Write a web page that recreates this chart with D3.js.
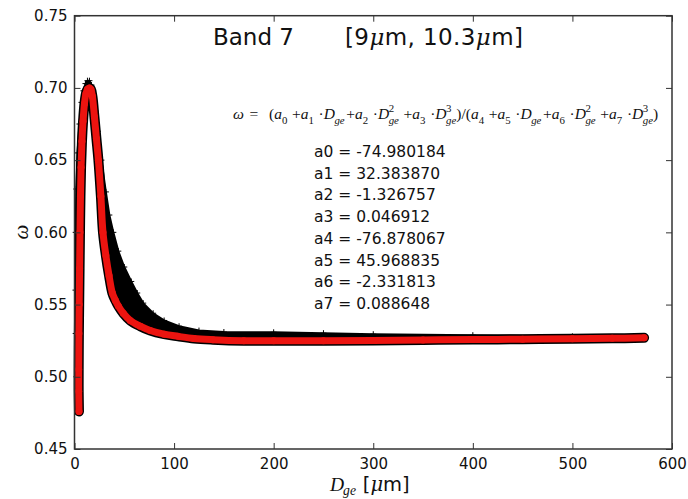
<!DOCTYPE html>
<html><head><meta charset="utf-8">
<script src="https://cdn.jsdelivr.net/npm/d3@7"></script>
<style>body{margin:0;background:#fff}</style>
</head><body><svg id="c" width="688" height="499"></svg>
<script>
// ---------- data ----------
const xTicks = [0, 100, 200, 300, 400, 500, 600];
const yTicks = [0.45, 0.50, 0.55, 0.60, 0.65, 0.70, 0.75];
// red fitted curve, ordered along the curve
const fitD = [4.5, 4.2, 4.2, 4.4, 4.7, 5.1, 5.5, 6.0, 6.6, 7.5, 8.6, 10, 11.5, 13, 15, 16.5, 18, 20, 22, 24, 26.5, 28.6, 31.5, 34.7, 38, 41, 44, 49, 56, 66, 76, 90, 104, 120, 139, 170, 200, 250, 300, 350, 400, 450, 500, 540, 572];
const fitW = [0.476, 0.49, 0.505, 0.53, 0.55, 0.575, 0.60, 0.625, 0.645, 0.663, 0.677, 0.689, 0.696, 0.699, 0.700, 0.699, 0.694, 0.680, 0.665, 0.650, 0.625, 0.600, 0.584, 0.570, 0.558, 0.553, 0.549, 0.544, 0.539, 0.535, 0.532, 0.5295, 0.528, 0.5265, 0.5257, 0.525, 0.525, 0.525, 0.5252, 0.5255, 0.5258, 0.526, 0.5263, 0.5266, 0.527];
// outer envelope of the black data cloud, ordered along the curve
const dataOuterD = [3.5, 2.0, 1.2, 1.0, 1.2, 1.8, 3, 5, 7, 9, 11, 13, 15, 17, 19, 21, 23.5, 27, 31.5, 35, 39, 44, 50, 57, 63, 69, 79, 90, 105, 125, 150, 200, 250, 300, 400, 500, 565];
const dataOuterW = [0.48, 0.50, 0.53, 0.56, 0.60, 0.63, 0.655, 0.675, 0.69, 0.698, 0.703, 0.705, 0.705, 0.702, 0.694, 0.684, 0.670, 0.650, 0.628, 0.612, 0.600, 0.587, 0.576, 0.566, 0.558, 0.551, 0.544, 0.539, 0.535, 0.532, 0.531, 0.5308, 0.5302, 0.5295, 0.5288, 0.528, 0.5275];
const coefNames = ["a0", "a1", "a2", "a3", "a4", "a5", "a6", "a7"];
const coefValues = ["-74.980184", "32.383870", "-1.326757", "0.046912", "-76.878067", "45.968835", "-2.331813", "0.088648"];
const bandTitle = "Band 7";

// ---------- setup ----------
const svg = d3.select("#c");
const L = 74.5, R = 672, T = 15.7, B = 449;
const x = d3.scaleLinear().domain([0, 600]).range([L, R]);
const y = d3.scaleLinear().domain([0.45, 0.75]).range([B, T]);
const SANS = "'DejaVu Sans', sans-serif";
const SERIF = "'Liberation Serif','DejaVu Serif',serif";
const RED = "#ec1410";

const fitPts = fitD.map((d, i) => [d, fitW[i]]);
const outerPts = dataOuterD.map((d, i) => [d, dataOuterW[i]]);

const plot = svg.append("g");
const line = d3.line().x(d => x(d[0])).y(d => y(d[1])).curve(d3.curveCatmullRom);

// black data cloud: polygon between fit curve and outer envelope
const poly = fitPts.concat(outerPts.slice().reverse());
plot.append("path").attr("d", d3.line().x(d => x(d[0])).y(d => y(d[1])).curve(d3.curveLinearClosed)(poly))
  .attr("fill", "#000").attr("stroke", "#000").attr("stroke-width", 2).attr("stroke-linejoin", "round");
plot.append("path").attr("d", line(fitPts)).attr("fill", "none").attr("stroke", "#000")
  .attr("stroke-width", 10).attr("stroke-linejoin", "round").attr("stroke-linecap", "round");
// "+" markers along envelope
plot.selectAll("path.plus").data(outerPts).join("path").attr("class", "plus")
  .attr("d", d => `M${x(d[0]) - 3},${y(d[1])}h6M${x(d[0])},${y(d[1]) - 3}v6`)
  .attr("stroke", "#000").attr("stroke-width", 1);
// red fit
plot.append("path").attr("d", line(fitPts)).attr("fill", "none").attr("stroke", RED)
  .attr("stroke-width", 7).attr("stroke-linejoin", "round").attr("stroke-linecap", "round");
plot.selectAll("circle").data(fitPts).join("circle")
  .attr("cx", d => x(d[0])).attr("cy", d => y(d[1])).attr("r", 3.5).attr("fill", RED);

// ---------- axes ----------
const fmtY = d3.format(".2f");
const gx = svg.append("g").attr("transform", `translate(0,${B})`)
  .call(d3.axisBottom(x).tickValues(xTicks).tickSizeInner(-6).tickSizeOuter(0).tickPadding(9).tickFormat(d3.format("d")));
const gxt = svg.append("g").attr("transform", `translate(0,${T})`)
  .call(d3.axisTop(x).tickValues(xTicks).tickSizeInner(-6).tickSizeOuter(0).tickFormat(""));
const gy = svg.append("g").attr("transform", `translate(${L},0)`)
  .call(d3.axisLeft(y).tickValues(yTicks).tickSizeInner(-6).tickSizeOuter(0).tickPadding(7).tickFormat(fmtY));
const gyr = svg.append("g").attr("transform", `translate(${R},0)`)
  .call(d3.axisRight(y).tickValues(yTicks).tickSizeInner(-6).tickSizeOuter(0).tickFormat(""));
[gx, gxt, gy, gyr].forEach(g => {
  g.select(".domain").remove();
  g.selectAll(".tick line").attr("stroke", "#333").attr("stroke-width", 1);
  g.selectAll(".tick text").attr("font-family", SANS).attr("font-size", 15).attr("fill", "#111");
});
svg.append("rect").attr("x", L).attr("y", T).attr("width", R - L).attr("height", B - T)
  .attr("fill", "none").attr("stroke", "#333").attr("stroke-width", 1.5);

// ---------- labels ----------
svg.append("text").attr("x", 213).attr("y", 45).attr("font-family", SANS).attr("font-size", 23).attr("fill", "#111").text(bandTitle);
const t2 = svg.append("text").attr("x", 345).attr("y", 45).attr("font-family", SANS).attr("font-size", 23)
  .attr("letter-spacing", 0.4).attr("fill", "#111");
t2.append("tspan").text("[9");
t2.append("tspan").attr("font-family", "'DejaVu Serif',serif").attr("font-style", "italic").text("μ");
t2.append("tspan").text("m, 10.3");
t2.append("tspan").attr("font-family", "'DejaVu Serif',serif").attr("font-style", "italic").text("μ");
t2.append("tspan").text("m]");

function mathRow(g, x0, y0, size, tokens) {
  let cx = x0;
  tokens.forEach(t => {
    if (t.sp !== undefined) { cx += t.sp * size; return; }
    const m = g.append("text").attr("x", cx).attr("y", y0).attr("font-family", t.fam || SERIF)
      .attr("font-size", size).attr("font-style", t.it ? "italic" : "normal").attr("fill", "#111").text(t.t);
    let w = m.node().getComputedTextLength();
    if (t.sub || t.sup) {
      const sx = cx + w + (t.k || 0);
      let ws = 0, wp = 0;
      if (t.sub) {
        const s = g.append("text").attr("x", sx).attr("y", y0 + size * (t.subDy || 0.3)).attr("font-family", SERIF)
          .attr("font-size", size * 0.7).attr("font-style", t.subIt ? "italic" : "normal").attr("fill", "#111").text(t.sub);
        ws = s.node().getComputedTextLength();
      }
      if (t.sup) {
        const s = g.append("text").attr("x", sx).attr("y", y0 - size * 0.42).attr("font-family", SERIF)
          .attr("font-size", size * 0.7).attr("fill", "#111").text(t.sup);
        wp = s.node().getComputedTextLength();
      }
      w += Math.max(ws, wp) + (t.k || 0);
    }
    cx += w;
  });
  return cx;
}

// x label
const xl = svg.append("g");
mathRow(xl, 330, 491, 19.5, [
  { t: "D", it: true, sub: "ge", subIt: true, k: -1, subDy: 0.2 },
  { sp: 0.35 },
  { t: "[", fam: SANS }, { t: "μ", it: true, fam: "'DejaVu Serif',serif" }, { t: "m]", fam: SANS }
]);

// y label
svg.append("text").attr("transform", "translate(28,232) rotate(-90)").attr("text-anchor", "middle")
  .attr("font-family", SERIF).attr("font-style", "italic").attr("font-size", 21).attr("fill", "#111").text("ω");

// formula
const fg = svg.append("g");
const a = (n) => ({ t: "a", it: true, sub: String(n) });
const Dk = (p) => ({ t: "D", it: true, sub: "ge", subIt: true, sup: p, k: -0.5 });
const op = (s) => ({ t: s });
const sp = (v) => ({ sp: v });
const dot = { t: "·" };
const half = (i) => [a(i), sp(0.3), op("+"), a(i + 1), sp(0.3), dot, Dk(""), sp(0.1), op("+"), a(i + 2), sp(0.3), dot, Dk("2"), sp(0.3), op("+"), a(i + 3), sp(0.3), dot, Dk("3")];
mathRow(fg, 233, 119, 15.5, [
  { t: "ω", it: true }, sp(0.35), op("="), sp(0.7), op("("),
  ...half(0), op(")/("), ...half(4), op(")")
]);

// coefficient table
coefNames.forEach((n, i) => {
  svg.append("text").attr("x", 314).attr("y", 157 + i * 21.7).attr("font-family", SANS)
    .attr("font-size", 15.5).attr("fill", "#111").text(`${n} = ${coefValues[i]}`);
});
</script></body></html>
